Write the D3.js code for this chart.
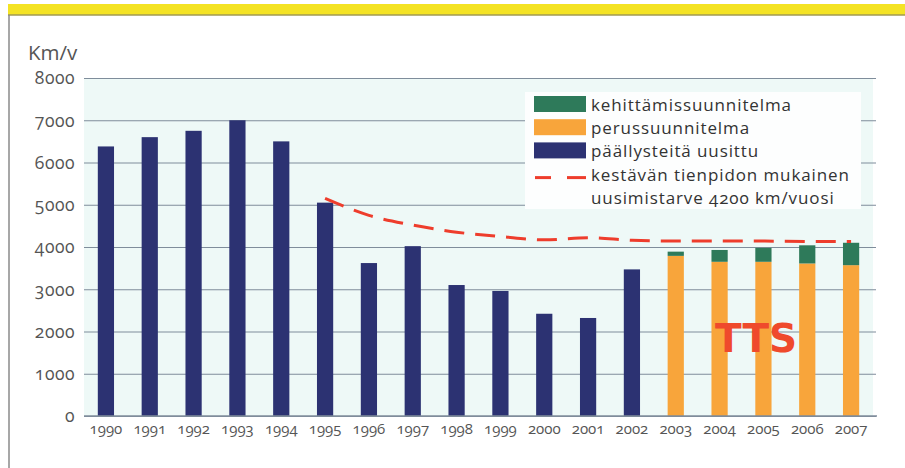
<!DOCTYPE html>
<html>
<head>
<meta charset="utf-8">
<script src="https://cdn.jsdelivr.net/npm/d3@7"></script>
<style>
  html, body { margin: 0; padding: 0; background: #ffffff; }
  svg { display: block; }
  .txt { font-family: "Open Sans", "Noto Sans", sans-serif; font-variant-numeric: oldstyle-nums; font-feature-settings: "onum" 1; }
</style>
</head>
<body>
<svg id="chart" width="905" height="468"></svg>
<script>
// Road resurfacing, km per year
const years = ["1990","1991","1992","1993","1994","1995","1996","1997","1998","1999",
               "2000","2001","2002","2003","2004","2005","2006","2007"];
// Resurfaced roads (actual), 1990-2002
const renewed = [6380, 6600, 6750, 7000, 6500, 5050, 3620, 4020, 3100, 2960, 2420, 2320, 3470,
                 null, null, null, null, null];
// Planned: basic plan and development plan, 2003-2007
const basicPlan = [null, null, null, null, null, null, null, null, null, null, null, null, null,
                   3790, 3650, 3650, 3610, 3570];
const devPlan = [null, null, null, null, null, null, null, null, null, null, null, null, null,
                 100, 280, 330, 430, 530];
// Sustainable renewal need, 1995-2007
const needYears = ["1995","1996","1997","1998","1999","2000","2001","2002","2003","2004","2005","2006","2007"];
const needValues = [5150, 4750, 4520, 4350, 4250, 4170, 4220, 4160, 4140, 4140, 4140, 4130, 4130];
const yTicks = [0, 1000, 2000, 3000, 4000, 5000, 6000, 7000, 8000];

const legendItems = [
  { label: "kehittämissuunnitelma", color: "#2e7a5a", type: "rect" },
  { label: "perussuunnitelma", color: "#f8a53b", type: "rect" },
  { label: "päällysteitä uusittu", color: "#2c3272", type: "rect" },
  { label: ["kestävän tienpidon mukainen", "uusimistarve 4200 km/vuosi"], color: "#ee3d2c", type: "dash" }
];

const svg = d3.select("#chart");
const plot = { left: 84, right: 873, top: 78, bottom: 416 };

const x = d3.scaleBand().domain(years).range([plot.left, plot.right])
  .paddingInner(0.63).paddingOuter(0.315);
const y = d3.scaleLinear().domain([0, 8000]).range([plot.bottom, plot.top]);

// Frame: yellow header band and left rule
svg.append("rect").attr("x", 8).attr("y", 4).attr("width", 897).attr("height", 11).attr("fill", "#f4e324");
svg.append("line").attr("x1", 8).attr("x2", 905).attr("y1", 15).attr("y2", 15)
  .attr("stroke", "#a09a52").attr("stroke-width", 1.5);
svg.append("line").attr("x1", 9).attr("x2", 9).attr("y1", 15).attr("y2", 468)
  .attr("stroke", "#8a8a8a").attr("stroke-width", 1.5);

// Plot background
svg.append("rect").attr("x", plot.left).attr("y", plot.top)
  .attr("width", plot.right - plot.left).attr("height", plot.bottom - plot.top)
  .attr("fill", "#eef9f7");

// Gridlines and y labels via axis
const yAxis = d3.axisLeft(y).tickValues(yTicks).tickSize(-(876 - plot.left)).tickPadding(9)
  .tickFormat(d3.format("d"));
const gy = svg.append("g").attr("transform", `translate(${plot.left},0)`).call(yAxis);
gy.select(".domain").remove();
gy.selectAll(".tick line").attr("stroke", "#7f8d9b").attr("stroke-width", 1.2);
gy.selectAll(".tick text").attr("class", "txt").attr("font-size", 17.5).attr("letter-spacing", 0.5)
  .attr("fill", "#555").attr("dy", "0.34em");

// x labels via axis
const xAxis = d3.axisBottom(x).tickSize(0).tickPadding(7);
const gx = svg.append("g").attr("transform", `translate(0,${plot.bottom})`).call(xAxis);
gx.select(".domain").remove();
gx.selectAll(".tick text").attr("class", "txt").attr("font-size", 15).attr("fill", "#555");

// Unit label
svg.append("text").attr("class", "txt").attr("x", 28).attr("y", 59.5)
  .attr("font-size", 20.5).attr("fill", "#555").text("Km/v");

// Actual resurfacing bars
svg.append("g").selectAll("rect").data(years.map((yr, i) => ({ yr, v: renewed[i] })).filter(d => d.v != null))
  .join("rect")
  .attr("x", d => x(d.yr)).attr("width", x.bandwidth())
  .attr("y", d => y(d.v)).attr("height", d => y(0) - y(d.v))
  .attr("fill", "#2c3272");

// Planned stacked bars
const planned = years.map((yr, i) => ({ yr, b: basicPlan[i], d: devPlan[i] })).filter(d => d.b != null);
svg.append("g").selectAll("rect").data(planned).join("rect")
  .attr("x", d => x(d.yr)).attr("width", x.bandwidth())
  .attr("y", d => y(d.b)).attr("height", d => y(0) - y(d.b))
  .attr("fill", "#f8a53b");
svg.append("g").selectAll("rect").data(planned).join("rect")
  .attr("x", d => x(d.yr)).attr("width", x.bandwidth())
  .attr("y", d => y(d.b + d.d)).attr("height", d => y(d.b) - y(d.b + d.d))
  .attr("fill", "#2e7a5a");

// Zero line
svg.append("line").attr("x1", plot.left).attr("x2", 877).attr("y1", y(0)).attr("y2", y(0))
  .attr("stroke", "#7f8d9b").attr("stroke-width", 1.4);

// Legend box
const lg = svg.append("g");
lg.append("rect").attr("x", 525).attr("y", 92).attr("width", 336).attr("height", 117).attr("fill", "#fdfefe");
const step = 23.2;
const rowY = [111, 111 + step, 111 + 2 * step, 111 + 3 * step];
legendItems.forEach((it, i) => {
  if (it.type === "rect") {
    lg.append("rect").attr("x", 534).attr("y", rowY[i] - 15).attr("width", 52).attr("height", 16).attr("fill", it.color);
    lg.append("text").attr("class", "txt").attr("x", 591).attr("y", rowY[i])
      .attr("font-size", 17).attr("letter-spacing", 0.9).attr("fill", "#333").text(it.label);
  } else {
    lg.append("line").attr("x1", 535).attr("x2", 551).attr("y1", rowY[i] - 3).attr("y2", rowY[i] - 3)
      .attr("stroke", it.color).attr("stroke-width", 3);
    lg.append("line").attr("x1", 567).attr("x2", 586).attr("y1", rowY[i] - 3).attr("y2", rowY[i] - 3)
      .attr("stroke", it.color).attr("stroke-width", 3);
    it.label.forEach((ln, k) => {
      lg.append("text").attr("class", "txt").attr("x", 591).attr("y", rowY[i] + k * step)
        .attr("font-size", 17).attr("letter-spacing", 0.9).attr("fill", "#333").text(ln);
    });
  }
});

// Sustainable renewal need line
const line = d3.line().x(d => x(d.yr) + x.bandwidth() / 2).y(d => y(d.v)).curve(d3.curveMonotoneX);
svg.append("path").datum(needYears.map((yr, i) => ({ yr, v: needValues[i] })))
  .attr("d", line).attr("fill", "none").attr("stroke", "#ee3d2c")
  .attr("stroke-width", 3).attr("stroke-dasharray", "20,11");

// Planning period label
svg.append("text").attr("x", 756).attr("y", 352).attr("text-anchor", "middle")
  .attr("font-family", "DejaVu Sans, sans-serif").attr("font-weight", "bold")
  .attr("font-size", 39).attr("fill", "#ef4a2c").text("TTS");
</script>
</body>
</html>
